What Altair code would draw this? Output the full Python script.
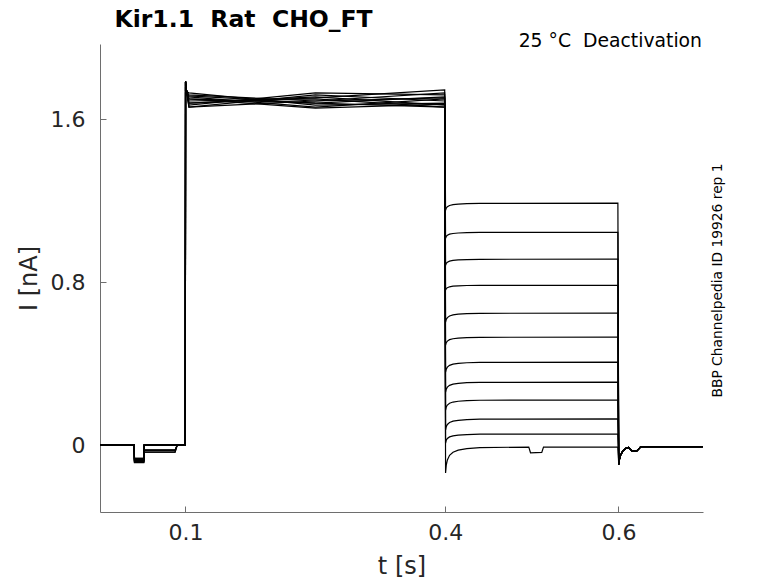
import altair as alt
import pandas as pd

FONT = "DejaVu Sans"

# twelve sweeps of the same cell, currents (nA)
sweeps = list(range(1, 13))

# holding period with the short test pulse before the activating step
pre_t = [0.0015, 0.0408, 0.0411, 0.0519, 0.0522, 0.070, 0.088, 0.0905, 0.0998]
pre_dip = [-0.070, -0.075, -0.082, -0.065, -0.086, -0.072,
           -0.078, -0.080, -0.068, -0.066, -0.085, -0.074]
pre_sag = [0.0, -0.025, 0.0, 0.0, -0.035, 0.0,
           -0.025, 0.0, 0.0, -0.035, -0.025, 0.0]

# activating step: onset spike, then the open level (three knots per sweep)
spike_t = [0.1001, 0.1005, 0.1015]
spike_i = [1.785, 1.760, 1.735]
act_t = [0.104, 0.25, 0.3994]
act_a = [1.700, 1.680, 1.720, 1.660, 1.710, 1.690, 1.670, 1.730, 1.680, 1.700, 1.660, 1.715]
act_b = [1.680, 1.710, 1.690, 1.720, 1.660, 1.700, 1.730, 1.670, 1.705, 1.655, 1.690, 1.680]
act_c = [1.710, 1.670, 1.730, 1.690, 1.700, 1.660, 1.720, 1.680, 1.745, 1.675, 1.705, 1.660]

# deactivating steps: first value after the jump and the settled level
deact_start = [1.153, 1.016, 0.883, 0.761, 0.604, 0.491,
               0.358, 0.260, 0.172, 0.074, 0.010, -0.137]
deact_level = [1.188, 1.045, 0.913, 0.785, 0.648, 0.530,
               0.407, 0.309, 0.221, 0.128, 0.054, -0.010]
tail_t = [0.4004, 0.4012, 0.4025, 0.405, 0.409, 0.415, 0.425, 0.44, 0.5994]
tail_frac = [0.0, 0.30, 0.50, 0.68, 0.80, 0.88, 0.94, 0.98, 1.0]

# small notch in the lowest sweep
notch_t = [0.4965, 0.4985, 0.5115, 0.5135]
notch_i = [-0.010, -0.038, -0.036, -0.010]

# back to holding potential
post_t = [0.6004, 0.6012, 0.6025, 0.605, 0.609, 0.612, 0.616, 0.621, 0.626, 0.6975]
post_i = [-0.095, -0.070, -0.050, -0.030, -0.015, -0.012, -0.030, -0.030, -0.008, -0.008]

rows = []
for n, s in enumerate(sweeps):
    pts = []
    pre_vals = [0.0, 0.0, pre_dip[n], pre_dip[n], pre_sag[n], pre_sag[n], pre_sag[n], 0.0, 0.0]
    pts += list(zip(pre_t, pre_vals))
    pts += list(zip(spike_t, spike_i))
    pts += list(zip(act_t, [act_a[n], act_b[n], act_c[n]]))
    tail = [deact_start[n] + f * (deact_level[n] - deact_start[n]) for f in tail_frac]
    tail_pts = list(zip(tail_t, tail))
    if s == 12:
        tail_pts += list(zip(notch_t, notch_i))
        tail_pts.sort()
    pts += tail_pts
    pts += list(zip(post_t, post_i))
    for k, (t, i) in enumerate(pts):
        rows.append({"sweep": s, "k": k, "t": t, "I": i})

df = pd.DataFrame(rows)

x_dom = [0.0013, 0.6977]
y_dom = [-0.329, 1.970]
x_ticks = [0.1, 0.4, 0.6]
y_ticks = [0, 0.8, 1.6]
axis_grey = "#6e6e6e"
label_col = "#262626"

x_scale = alt.Scale(domain=x_dom, nice=False, zero=False)
y_scale = alt.Scale(domain=y_dom, nice=False, zero=False)

traces = alt.Chart(df).mark_line(color="black", strokeWidth=1.2).encode(
    x=alt.X("t:Q", scale=x_scale, axis=alt.Axis(
        values=x_ticks, labelExpr="format(datum.value, '.1f')", ticks=False, tickSize=0,
        grid=False, labelPadding=10, labelFontSize=22, labelFont=FONT, labelColor=label_col,
        domainColor=axis_grey, title="t [s]", titleFont=FONT, titleFontSize=24,
        titleFontWeight="normal", titleColor=label_col, titleX=301.5, titleY=61,
        titleBaseline="alphabetic", titleAlign="center")),
    y=alt.Y("I:Q", scale=y_scale, axis=alt.Axis(
        values=y_ticks, labelExpr="datum.value == 0 ? '0' : format(datum.value, '.1f')",
        ticks=False, tickSize=0, grid=False,
        labelPadding=15, labelFontSize=22, labelFont=FONT, labelColor=label_col,
        domainColor=axis_grey, title="I [nA]", titleFont=FONT, titleFontSize=24,
        titleFontWeight="normal", titleColor=label_col, titleX=-63.8, titleY=234,
        titleAngle=270, titleBaseline="alphabetic", titleAlign="center")),
    detail="sweep:N",
    order="k:Q",
)

# inward tick marks, drawn by a second pair of axes shifted into the plot
inner_ticks = alt.Chart(df).mark_line(opacity=0).encode(
    x=alt.X("t:Q", scale=x_scale, axis=alt.Axis(
        orient="bottom", offset=-6, values=x_ticks, tickSize=6, tickColor=axis_grey,
        labels=False, domain=False, grid=False, title="")),
    y=alt.Y("I:Q", scale=y_scale, axis=alt.Axis(
        orient="left", offset=-6, values=y_ticks, tickSize=6, tickColor=axis_grey,
        labels=False, domain=False, grid=False, title="")),
    detail="sweep:N",
)

title = alt.Chart(pd.DataFrame({"txt": ["Kir1.1\u00a0\u00a0Rat\u00a0\u00a0CHO_FT"]})).mark_text(
    font=FONT, fontSize=23.5, fontWeight="bold", align="left", baseline="alphabetic", color="black"
).encode(text="txt:N", x=alt.value(14.5), y=alt.value(-17.5))

cond = alt.Chart(pd.DataFrame({"txt": ["25 \u00b0C\u00a0\u00a0Deactivation"]})).mark_text(
    font=FONT, fontSize=18.8, align="right", baseline="alphabetic", color="black"
).encode(text="txt:N", x=alt.value(602), y=alt.value(3))

source = alt.Chart(pd.DataFrame({"txt": ["BBP Channelpedia ID 19926 rep 1"]})).mark_text(
    font=FONT, fontSize=13.8, align="center", baseline="alphabetic", angle=270, color="black"
).encode(text="txt:N", x=alt.value(621.5), y=alt.value(236.5))

chart = alt.layer(traces, inner_ticks, title, cond, source).resolve_axis(
    x="independent", y="independent"
).properties(
    width=603,
    height=468,
    autosize="none",
    padding={"left": 92, "top": 36, "right": 60, "bottom": 70},
).configure_view(stroke=None)

chart.save("out.html", embed_options={"renderer": "svg", "actions": False})
